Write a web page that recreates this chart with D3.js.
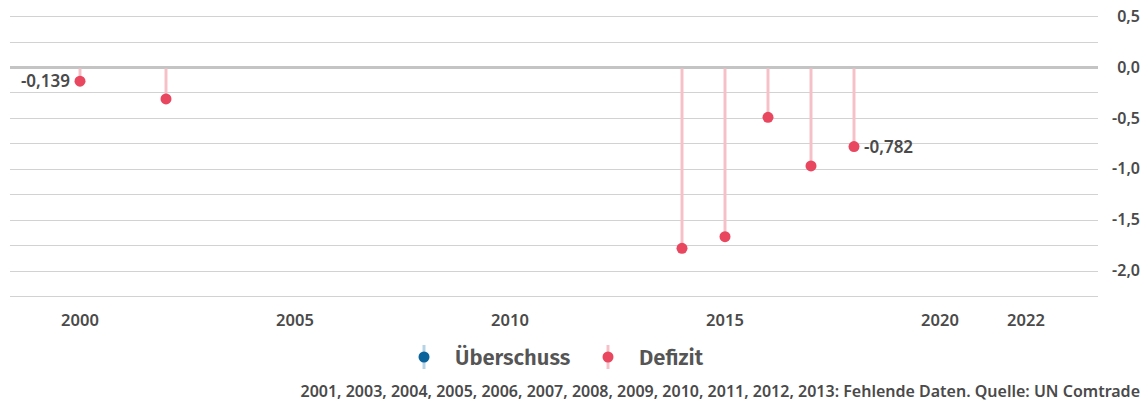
<html>
<head>
<meta charset="utf-8">
<style>
  body { margin: 0; background: #fff; }
  text { font-family: "Noto Sans", sans-serif; }
  .legend text { font-family: "Fira Sans", "Noto Sans", sans-serif; }
</style>
<script src="https://d3js.org/d3.v7.min.js"></script>
</head>
<body>
<script>
// data (Mrd., negative = Defizit)
var years = [2000, 2002, 2014, 2015, 2016, 2017, 2018];
var values = [-0.139, -0.314, -1.781, -1.667, -0.494, -0.972, -0.782];
var labelled = {2000: "left", 2018: "right"};
var xTicks = [2000, 2005, 2010, 2015, 2020, 2022];
var yGrid = [0.5, 0.25, 0, -0.25, -0.5, -0.75, -1, -1.25, -1.5, -1.75, -2, -2.25];
var yLabels = [0.5, 0, -0.5, -1, -1.5, -2];
var legendItems = ["Überschuss", "Defizit"];
var note = "2001, 2003, 2004, 2005, 2006, 2007, 2008, 2009, 2010, 2011, 2012, 2013: Fehlende Daten. Quelle: UN Comtrade";

var width = 1147, height = 401;
var red = "#e8475f", redLight = "#f6c0c9", blue = "#0b639c", blueLight = "#b6d2e6";
var fmt = function(v) { return d3.format(".3f")(v).replace("\u2212", "-").replace(".", ","); };

var x = d3.scaleLinear().domain([2000, 2022]).range([80, 1026]);
var y = d3.scaleLinear().domain([0, -2]).range([67, 270.6]);

var svg = d3.select("body").append("svg")
  .attr("width", width).attr("height", height);

// grid
svg.append("g").selectAll("line")
  .data(yGrid)
  .enter().append("line")
    .attr("x1", 10).attr("x2", 1098)
    .attr("y1", function(d) { return Math.round(y(d)) + 0.5; })
    .attr("y2", function(d) { return Math.round(y(d)) + 0.5; })
    .attr("stroke", function(d) { return d === 0 ? "#c4c4c4" : "#d2d2d2"; })
    .attr("stroke-width", function(d) { return d === 0 ? 3 : 1; });

// right y labels
svg.append("g").selectAll("text")
  .data(yLabels)
  .enter().append("text")
    .attr("x", 1140)
    .attr("y", function(d) { return y(d); })
    .attr("dy", "0.35em")
    .attr("text-anchor", "end")
    .attr("font-size", 16).attr("font-weight", 600)
    .attr("fill", "#4a4a4a")
    .text(function(d) { return d3.format(".1f")(d).replace(".", ",").replace("\u2212", "-"); });

// x labels
svg.append("g").selectAll("text")
  .data(xTicks)
  .enter().append("text")
    .attr("x", function(d) { return x(d); })
    .attr("y", 320).attr("dy", "0.35em")
    .attr("text-anchor", "middle")
    .attr("font-size", 16.5).attr("font-weight", 600)
    .attr("fill", "#4a4a4a")
    .text(function(d) { return d; });

var pts = years.map(function(yr, i) { return {year: yr, value: values[i]}; });

// stems
svg.append("g").selectAll("line")
  .data(pts)
  .enter().append("line")
    .attr("x1", function(d) { return x(d.year); })
    .attr("x2", function(d) { return x(d.year); })
    .attr("y1", y(0) + 1.5)
    .attr("y2", function(d) { return y(d.value); })
    .attr("stroke", function(d) { return d.value < 0 ? redLight : blueLight; })
    .attr("stroke-width", 3);

// dots
svg.append("g").selectAll("circle")
  .data(pts)
  .enter().append("circle")
    .attr("cx", function(d) { return x(d.year); })
    .attr("cy", function(d) { return y(d.value); })
    .attr("r", 5.5)
    .attr("fill", function(d) { return d.value < 0 ? red : blue; });

// value labels
svg.append("g").selectAll("text")
  .data(pts.filter(function(d) { return labelled[d.year]; }))
  .enter().append("text")
    .attr("x", function(d) { return labelled[d.year] === "left" ? x(d.year) - 10 : x(d.year) + 10; })
    .attr("y", function(d) { return y(d.value); })
    .attr("dy", "0.35em")
    .attr("text-anchor", function(d) { return labelled[d.year] === "left" ? "end" : "start"; })
    .attr("font-size", 17).attr("font-weight", 600)
    .attr("fill", "#4a4a4a")
    .text(function(d) { return fmt(d.value); });

// legend
var legend = svg.append("g").attr("class", "legend").attr("transform", "translate(0,357)");
var legX = [424, 608];
var legCol = [[blue, blueLight], [red, redLight]];
legendItems.forEach(function(name, i) {
  var g = legend.append("g").attr("transform", "translate(" + legX[i] + ",0)");
  g.append("line").attr("x1", 0).attr("x2", 0).attr("y1", -12).attr("y2", 12)
    .attr("stroke", legCol[i][1]).attr("stroke-width", 3);
  g.append("circle").attr("r", 5.5).attr("fill", legCol[i][0]);
  g.append("text").attr("x", 31).attr("dy", "0.35em")
    .attr("font-size", 22).attr("font-weight", 600).attr("fill", "#555")
    .text(name);
});

// footnote
svg.append("text")
  .attr("x", 1140).attr("y", 397)
  .attr("text-anchor", "end")
  .attr("font-size", 16).attr("font-weight", 600)
  .attr("fill", "#4a4a4a")
  .text(note);
</script>
</body>
</html>
